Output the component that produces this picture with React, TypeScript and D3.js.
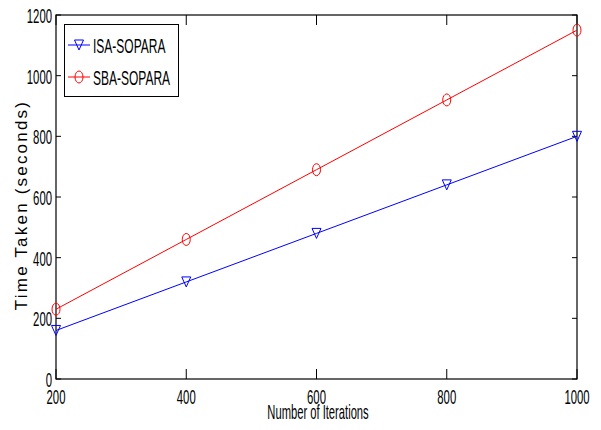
import React from "react";
import * as d3 from "d3";

const iterations = [200, 400, 600, 800, 1000];
const isaSopara = [160, 320, 480, 640, 800];
const sbaSopara = [230, 460, 690, 920, 1150];
const xTicks = [200, 400, 600, 800, 1000];
const yTicks = [0, 200, 400, 600, 800, 1000, 1200];

const W = 601, H = 430;
const L = 56, R = 577, T = 15, B = 379;
const font = "'Liberation Sans', Arial, sans-serif";

function Narrow({ x, y, anchor, size, sx, children }: { x: number; y: number; anchor: "start" | "middle" | "end"; size: number; sx: number; children: React.ReactNode }) {
  return (
    <text transform={`translate(${x},${y}) scale(${sx},1)`} textAnchor={anchor} fontFamily={font} fontSize={size} fill="#000">
      {children}
    </text>
  );
}

export default function App() {
  const x = d3.scaleLinear().domain([200, 1000]).range([L, R]);
  const y = d3.scaleLinear().domain([0, 1200]).range([B, T]);
  const line = d3.line<number>().x((_, i) => x(iterations[i])).y((d) => y(d));
  const tri = (cx: number, cy: number) => `M${cx - 4.5},${cy - 5} L${cx + 4.5},${cy - 5} L${cx},${cy + 5} Z`;
  return (
    <svg width={W} height={H} style={{ position: "absolute", left: 0, top: 0, background: "#fff" }}>
      <rect x={0} y={0} width={W} height={H} fill="#fff" />
      {xTicks.map((t) => (
        <g key={"x" + t}>
          <line x1={x(t)} x2={x(t)} y1={B} y2={B - 10} stroke="#000" />
          <line x1={x(t)} x2={x(t)} y1={T} y2={T + 10} stroke="#000" />
          <Narrow x={x(t)} y={403.5} anchor="middle" size={21} sx={0.54}>{t}</Narrow>
        </g>
      ))}
      {yTicks.map((t) => (
        <g key={"y" + t}>
          <line x1={L} x2={L + 5} y1={y(t)} y2={y(t)} stroke="#000" />
          <line x1={R} x2={R - 5} y1={y(t)} y2={y(t)} stroke="#000" />
          <Narrow x={52} y={y(t) + 8} anchor="end" size={21} sx={0.54}>{t}</Narrow>
        </g>
      ))}
      <rect x={L} y={T} width={R - L} height={B - T} fill="none" stroke="#000" strokeWidth={1.2} />
      <path d={line(isaSopara) || ""} fill="none" stroke="#0000ff" strokeWidth={1} />
      <path d={line(sbaSopara) || ""} fill="none" stroke="#ff0000" strokeWidth={1} />
      {isaSopara.map((v, i) => (
        <path key={"i" + i} d={tri(x(iterations[i]), y(v))} fill="none" stroke="#0000ff" strokeWidth={1} />
      ))}
      {sbaSopara.map((v, i) => (
        <ellipse key={"s" + i} cx={x(iterations[i])} cy={y(v)} rx={4} ry={6} fill="none" stroke="#ff0000" strokeWidth={1} />
      ))}
      <rect x={64.5} y={24.5} width={114} height={72} fill="#fff" stroke="#000" strokeWidth={1} />
      <line x1={68} x2={90} y1={45} y2={45} stroke="#0000ff" />
      <path d={tri(79, 45)} fill="none" stroke="#0000ff" />
      <Narrow x={93} y={53} anchor="start" size={20} sx={0.6}>ISA-SOPARA</Narrow>
      <line x1={68} x2={90} y1={77} y2={77} stroke="#ff0000" />
      <ellipse cx={79} cy={77} rx={4} ry={6} fill="none" stroke="#ff0000" />
      <Narrow x={93} y={85} anchor="start" size={20} sx={0.6}>SBA-SOPARA</Narrow>
      <Narrow x={318} y={419} anchor="middle" size={20} sx={0.56}>Number of Iterations</Narrow>
      <text transform={`translate(27,205) rotate(-90)`} textAnchor="middle" fontFamily={font} fontSize={17} letterSpacing={2.2} fill="#000">Time Taken (seconds)</text>
    </svg>
  );
}
